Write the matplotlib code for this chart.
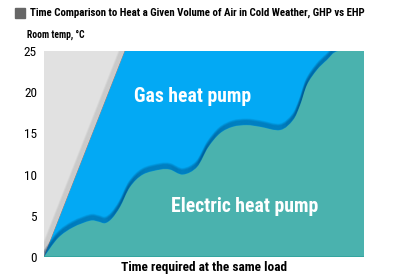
import numpy as np
import matplotlib.pyplot as plt
from matplotlib import font_manager
from matplotlib.patches import Rectangle, PathPatch
from matplotlib.path import Path
from matplotlib.transforms import Affine2D

# electric heat pump curve (time in % of axis, room temp in degC)
elec_x = [0, 4.4, 9.1, 14.4, 16.9, 19.1, 21.3, 23.8, 26.9, 30.9, 36.3, 39.4,
          43.4, 47.8, 51.3, 55.0, 59.0, 63.4, 67.5, 73.8, 77.8, 80.0, 82.2,
          85.3, 88.4, 91.9, 100]
elec_y = [0, 2.3, 3.6, 4.4, 4.3, 4.1, 4.7, 6.1, 8.5, 10.0, 10.6, 10.6,
          10.0, 10.9, 13.3, 15.0, 15.8, 16.0, 15.8, 15.4, 16.6, 18.4, 20.9,
          22.7, 23.9, 25.0, 25.0]
# gas heat pump: straight rise
gas_x = [0, 25.3]
gas_y = [0, 25]
yticks = [0, 5, 10, 15, 20, 25]

GRAY = "#e1e1e1"
BLUE = "#03a9f4"
TEAL = "#4ab2ae"


def pick_font():
    names = {f.name for f in font_manager.fontManager.ttflist}
    for n in ["Roboto Condensed", "Open Sans Condensed", "Liberation Sans Narrow",
              "Noto Sans Display", "DejaVu Sans"]:
        if n in names:
            return n
    return "DejaVu Sans"


def smooth_path(xs, ys, close_to=None):
    # catmull-rom style bezier path through the read points
    pts = np.column_stack([xs, ys])
    n = len(pts)
    verts = [pts[0]]
    codes = [Path.MOVETO]
    for i in range(n - 1):
        p0 = pts[max(i - 1, 0)]
        p1 = pts[i]
        p2 = pts[i + 1]
        p3 = pts[min(i + 2, n - 1)]
        verts += [p1 + (p2 - p0) / 6, p2 - (p3 - p1) / 6, p2]
        codes += [Path.CURVE4] * 3
    if close_to is not None:
        verts += [(xs[-1], close_to), (xs[0], close_to), pts[0]]
        codes += [Path.LINETO, Path.LINETO, Path.CLOSEPOLY]
    return Path(verts, codes)


def fit(fig, txt, width_px):
    r = fig.canvas.get_renderer()
    w = txt.get_window_extent(r).width
    txt.set_fontsize(txt.get_fontsize() * width_px / w)


def main():
    fam = pick_font()
    fig = plt.figure(figsize=(3.95, 2.76), dpi=100)
    ax = fig.add_axes([44 / 395, 19 / 276, 320 / 395, 206 / 276])
    ax.set_xlim(0, 100)
    ax.set_ylim(0, 25)
    ax.set_facecolor(GRAY)

    # soft shadow left of the gas line
    for i in range(1, 9):
        off = Affine2D().translate(-0.7 * i, 0)
        ax.plot(gas_x, gas_y, color="#777777", alpha=0.07, lw=1.4, zorder=1,
                transform=ax.transData + off)
    ax.plot(gas_x, gas_y, color="#b07a6a", lw=0.6, zorder=1.5)

    # gas region
    ax.fill([gas_x[0], gas_x[1], 100, 100], [gas_y[0], gas_y[1], 25, 0],
            color=BLUE, lw=0, zorder=2)

    # dark shadow above the electric curve
    line = smooth_path(elec_x, elec_y)
    for i in range(10):
        off = Affine2D().translate(0, 0.6 * i)
        ax.add_patch(PathPatch(line, fill=False, edgecolor="#00315f",
                               alpha=0.09, lw=1.8, zorder=3,
                               transform=ax.transData + off))

    ax.add_patch(PathPatch(smooth_path(elec_x, elec_y, close_to=0),
                           facecolor=TEAL, lw=0, zorder=4))
    ax.axhline(0, color="#2fa39c", lw=1.2, zorder=5)

    for s in ax.spines.values():
        s.set_visible(False)
    ax.set_xticks([])
    ax.set_yticks(yticks)
    ax.tick_params(axis="y", length=0, pad=5, labelsize=9.5)
    for lab in ax.get_yticklabels():
        lab.set_family(fam)

    t_gas = ax.text(46.5, 18.8, "Gas heat pump", color="white", fontsize=12,
                    fontweight="bold", family=fam, ha="center",
                    va="baseline", zorder=6)
    t_el = ax.text(62.8, 5.45, "Electric heat pump", color="white",
                   fontsize=12, fontweight="bold", family=fam, ha="center",
                   va="baseline", zorder=6)

    fig.add_artist(Rectangle((15 / 395, 1 - 18 / 276), 10 / 395, 10 / 276,
                             transform=fig.transFigure, color="#666666"))
    t_title = fig.text(30 / 395, 1 - 13 / 276,
                       "Time Comparison to Heat a Given Volume of Air in Cold Weather, GHP vs EHP",
                       fontsize=8, fontweight="bold", family=fam, va="center")
    t_room = fig.text(27 / 395, 1 - 35 / 276, "Room temp, °C", fontsize=7,
                      fontweight="bold", family=fam, va="center")
    t_x = fig.text(204 / 395, 1 - 267 / 276, "Time required at the same load",
                   fontsize=7.5, fontweight="bold", family=fam, ha="center",
                   va="center")

    fit(fig, t_title, 337)
    fit(fig, t_room, 57)
    fit(fig, t_x, 165)
    fit(fig, t_gas, 117)
    fit(fig, t_el, 148)

    fig.savefig("out.png", dpi=100)


if __name__ == "__main__":
    main()
